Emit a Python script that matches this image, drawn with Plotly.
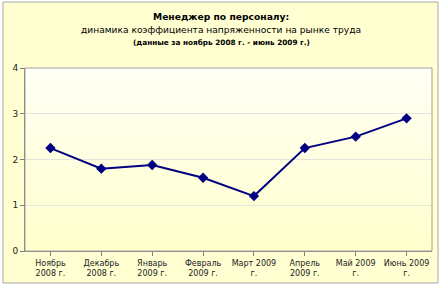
import plotly.graph_objects as go

categories = ["Ноябрь<br>2008 г.", "Декабрь<br>2008 г.", "Январь<br>2009 г.", "Февраль<br>2009 г.",
              "Март 2009<br>г.", "Апрель<br>2009 г.", "Май 2009<br>г.", "Июнь 2009<br>г."]
values = [2.25, 1.8, 1.88, 1.6, 1.2, 2.25, 2.5, 2.9]
y_ticks = [0, 1, 2, 3, 4]

W, H = 442, 289
ml, mr, mt, mb = 25, 10, 68, 38
pw, ph = W - ml - mr, H - mt - mb

def px_x(p):
    return (p - ml) / pw

def px_y(p):
    return (H - mb - p) / ph

fig = go.Figure()
fig.add_trace(go.Scatter(
    x=list(range(len(categories))), y=values, mode="lines+markers",
    line=dict(color="#000080", width=2),
    marker=dict(symbol="diamond", size=8, color="#000080"),
    hoverinfo="skip", showlegend=False,
))

shapes = []
shapes.append(dict(type="rect", xref="paper", yref="paper",
                   x0=px_x(3), x1=px_x(438), y0=px_y(283), y1=px_y(2),
                   fillcolor="#FFFFD2", line=dict(color="#A8A8A8", width=1), layer="below"))
n = 40
def lerp(a, b, t):
    return int(round(a + (b - a) * t))
top = (255, 255, 246)
bot = (255, 255, 204)
for i in range(n):
    t = i / (n - 1)
    c = tuple(lerp(top[k], bot[k], t) for k in range(3))
    shapes.append(dict(type="rect", xref="paper", yref="paper",
                       x0=0, x1=1, y1=1 - i / n, y0=1 - (i + 1) / n,
                       fillcolor="rgb(%d,%d,%d)" % c, line=dict(width=0), layer="below"))
shapes.append(dict(type="rect", xref="paper", yref="paper", x0=0, x1=1, y0=0, y1=1,
                   line=dict(color="#A0A0A0", width=1), layer="above"))
fig.update_layout(shapes=shapes)

fig.update_layout(
    width=W, height=H,
    margin=dict(l=ml, r=mr, t=mt, b=mb),
    paper_bgcolor="white", plot_bgcolor="rgba(0,0,0,0)",
    font=dict(family="DejaVu Sans", size=8, color="#000000"),
    xaxis=dict(
        range=[-0.5, len(categories) - 0.5],
        tickmode="array", tickvals=list(range(len(categories))), ticktext=categories,
        ticks="outside", tickson="boundaries", ticklen=4, tickcolor="#808080",
        showline=True, linecolor="#808080", linewidth=1,
        showgrid=False, zeroline=False,
        tickfont=dict(family="DejaVu Sans", size=8, color="#222"),
        fixedrange=True,
    ),
    yaxis=dict(
        range=[0, 4], tickvals=y_ticks,
        ticks="outside", ticklen=4, tickcolor="#808080",
        showline=True, linecolor="#808080", linewidth=1,
        showgrid=True, gridcolor="#E4E4D8", gridwidth=1, zeroline=False,
        tickfont=dict(family="DejaVu Sans", size=9, color="#222"),
        fixedrange=True,
    ),
    annotations=[
        dict(text="<b>Менеджер по персоналу:</b>", xref="paper", yref="paper",
             x=px_x(221), y=px_y(17), xanchor="center", yanchor="middle", showarrow=False,
             font=dict(family="DejaVu Sans", size=9.2, color="#000")),
        dict(text="динамика коэффициента напряженности на рынке труда", xref="paper", yref="paper",
             x=px_x(221), y=px_y(30), xanchor="center", yanchor="middle", showarrow=False,
             font=dict(family="DejaVu Sans", size=9.1, color="#000")),
        dict(text="<b>(данные за ноябрь 2008 г. - июнь 2009 г.)</b>", xref="paper", yref="paper",
             x=px_x(221), y=px_y(42), xanchor="center", yanchor="middle", showarrow=False,
             font=dict(family="DejaVu Sans", size=7.3, color="#000")),
    ],
)

fig.write_html("out.html")
